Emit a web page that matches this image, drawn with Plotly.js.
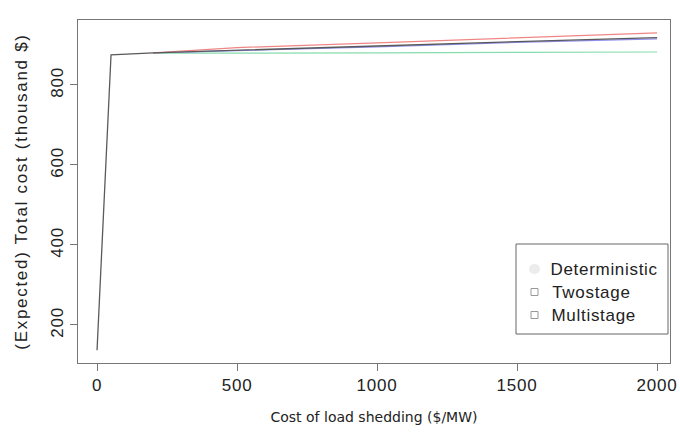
<!DOCTYPE html>
<html>
<head>
<meta charset="utf-8">
<script src="https://cdn.plot.ly/plotly-3.0.1.min.js"></script>
<style>
  html, body { margin: 0; padding: 0; background: #fff; }
  #chart { width: 680px; height: 432px; }
  /* airy spacing for the Helvetica-style labels */
  #chart .ytitle { letter-spacing: 1.7px; }
  #chart .xtick text, #chart .ytick text { letter-spacing: 0.8px; }
  #chart .annotation-text { letter-spacing: 0.7px; }
</style>
</head>
<body>
<div id="chart"></div>
<script>
// Cost of load shedding ($/MW)
const shedCost = [0, 50, 200, 500, 1000, 1500, 2000];
const shedCostSplit = [200, 500, 1000, 1500, 2000];

// Expected total cost (thousand $)
const deterministic = [137, 875, 880, 886, 897, 908, 918];
const twostage = [880, 893, 905, 918, 930];
const twostageBound = [880, 885, 895, 906, 915];
const multistage = [879, 880, 880, 881, 882];

const legendNames = ['Deterministic', 'Twostage', 'Multistage'];
const xTicks = [0, 500, 1000, 1500, 2000];
const yTicks = [200, 400, 600, 800];

const W = 680, H = 432;
const M = { l: 78, r: 10, t: 20, b: 69 };
const pw = W - M.l - M.r, ph = H - M.t - M.b;
const px = x => (x - M.l) / pw;
const py = y => (H - M.b - y) / ph;

const labelFont = 'Liberation Sans, Arial, Helvetica, sans-serif';

const traces = [
  { x: shedCostSplit, y: multistage, mode: 'lines', line: { color: '#86dcae', width: 1.2 }, showlegend: false },
  { x: shedCostSplit, y: twostageBound, mode: 'lines', line: { color: '#9090ee', width: 1.2 }, showlegend: false },
  { x: shedCostSplit, y: twostage, mode: 'lines', line: { color: '#ef8686', width: 1.2 }, showlegend: false },
  { x: shedCost, y: deterministic, mode: 'lines', line: { color: '#5a5a5a', width: 1.3 }, showlegend: false }
];

// hand-built legend box in the lower right
const legRows = [269, 292, 315];
const shapes = [
  { type: 'rect', xref: 'paper', yref: 'paper', x0: px(516), x1: px(668), y0: py(334), y1: py(244),
    line: { color: '#666', width: 1 }, fillcolor: 'rgba(0,0,0,0)' }
];
const annotations = [];
legendNames.forEach((name, i) => {
  const yc = legRows[i];
  if (i > 0) {
    shapes.push({ type: 'rect', xref: 'paper', yref: 'paper',
      x0: px(531), x1: px(538), y0: py(yc + 3.5), y1: py(yc - 3.5),
      line: { color: '#999', width: 1 }, fillcolor: 'rgba(0,0,0,0)' });
  } else {
    shapes.push({ type: 'circle', xref: 'paper', yref: 'paper',
      x0: px(529), x1: px(540), y0: py(yc + 5), y1: py(yc - 5),
      line: { color: 'rgba(0,0,0,0)', width: 0 }, fillcolor: 'rgba(200,200,200,0.35)' });
  }
  annotations.push({ xref: 'paper', yref: 'paper', x: px(553), y: py(yc),
    xanchor: 'left', yanchor: 'middle', showarrow: false, text: name,
    font: { family: labelFont, size: 17, color: '#222' } });
});

const layout = {
  width: W, height: H,
  margin: M,
  paper_bgcolor: '#fff', plot_bgcolor: '#fff',
  showlegend: false,
  font: { family: labelFont, size: 14, color: '#222' },
  xaxis: {
    range: [-68, 2046], tickvals: xTicks, ticktext: xTicks.map(String),
    showgrid: false, zeroline: false,
    showline: true, linecolor: '#777', linewidth: 1, mirror: true,
    ticks: 'outside', ticklen: 7, tickcolor: '#777',
    tickfont: { family: labelFont, size: 17, color: '#222' },
    title: { text: 'Cost of load shedding ($/MW)', standoff: 17,
      font: { family: 'DejaVu Sans, sans-serif', size: 14, color: '#222' } }
  },
  yaxis: {
    range: [105, 962], tickvals: yTicks, ticktext: yTicks.map(String),
    showgrid: false, zeroline: false,
    showline: true, linecolor: '#777', linewidth: 1, mirror: true,
    ticks: 'outside', ticklen: 7, tickcolor: '#777', tickangle: -90,
    tickfont: { family: labelFont, size: 17, color: '#222' },
    title: { text: '(Expected) Total cost (thousand $)', standoff: 16,
      font: { family: labelFont, size: 17, color: '#222' } }
  },
  shapes: shapes,
  annotations: annotations
};

Plotly.newPlot('chart', traces, layout, { displayModeBar: false, staticPlot: true });
</script>
</body>
</html>
